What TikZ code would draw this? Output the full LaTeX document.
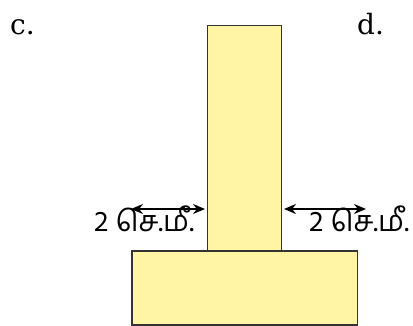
\documentclass[tikz,border=0pt]{standalone}
\usepackage{fontspec}
\newfontfamily\tamilfont[Script=Tamil]{Hind Madurai}
\newfontfamily\serifletter{DejaVu Serif}
\usetikzlibrary{arrows.meta}
\definecolor{paleyellow}{HTML}{FFF5A5}
\definecolor{edgegray}{HTML}{333333}
\tikzset{
  block/.style={draw=edgegray, line width=1.2pt, fill=paleyellow},
  dimarrow/.style={{Stealth[length=12pt,width=10pt]}-{Stealth[length=12pt,width=10pt]}, line width=1.5pt},
  dimlabel/.style={font=\tamilfont\fontsize{29}{32}\selectfont, inner sep=0pt, anchor=base west},
  letterlabel/.style={font=\serifletter\fontsize{28}{32}\selectfont, inner sep=0pt, anchor=base west}
}
\begin{document}
\begin{tikzpicture}[x=1pt,y=-1pt]
\useasboundingbox (0,0) rectangle (413,326);
\draw[block] (132,251) rectangle (357.5,325);
\draw[block] (207.5,25.5) rectangle (281.5,251);
\node[letterlabel] (c) at (10,35) {c.};
\node[letterlabel] (d) at (357,35) {d.};
\node[dimlabel] (l) at (94,232) {2 செ.மீ.};
\node[dimlabel] (r) at (309,232) {2 செ.மீ.};
\coordinate (la) at (131,209);
\coordinate (lb) at (205,209);
\coordinate (ra) at (284,209);
\coordinate (rb) at (366,209);
\draw[dimarrow] (la) -- (lb);
\draw[dimarrow] (ra) -- (rb);
\end{tikzpicture}
\end{document}
